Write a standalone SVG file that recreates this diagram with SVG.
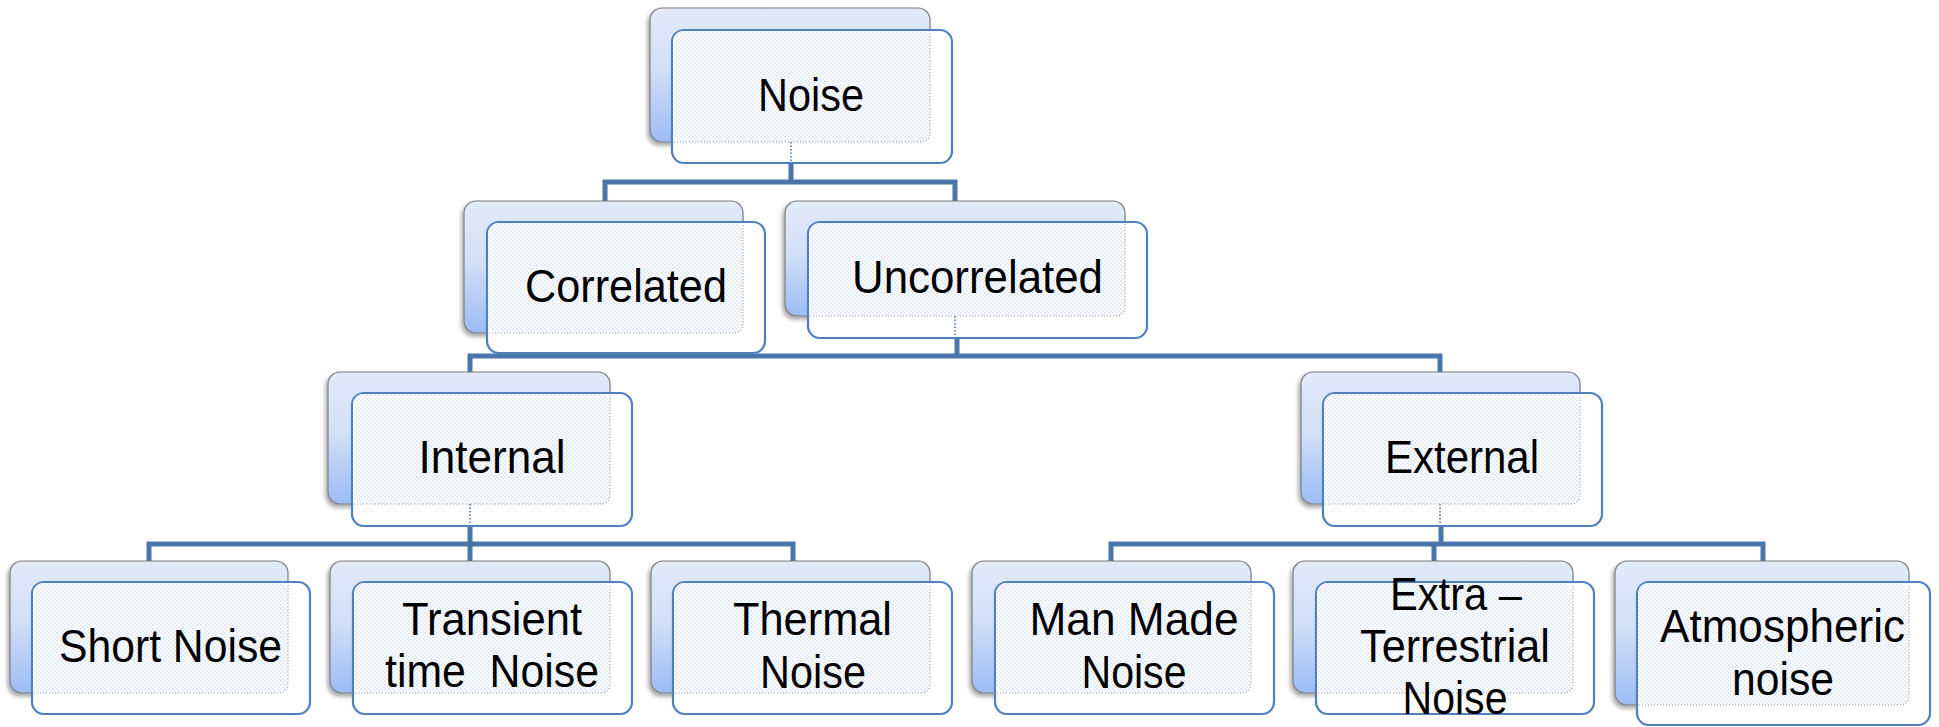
<svg xmlns="http://www.w3.org/2000/svg" width="1939" height="727" viewBox="0 0 1939 727">
  <style>
    .back { fill: url(#backGrad); stroke: #7d7d7d; stroke-width: 1.2; filter: url(#shadow); }
    .front { fill: #ffffff; stroke: #4f81bd; stroke-width: 2.2; }
    .dots { fill: url(#dotPat); stroke: none; }
    .edge { fill: none; stroke: #9a9a9a; stroke-width: 1.2; stroke-dasharray: 1 2; }
    .stub { fill: none; stroke: #6f93c6; stroke-width: 2; stroke-dasharray: 1.5 2; }
    .conn { fill: none; stroke: #4a75ab; stroke-width: 5; stroke-linejoin: miter; }
    .lbl { font-family: "Liberation Sans", Arial, sans-serif; font-size: 47px; fill: #000000; text-anchor: middle; }
  </style>
  <defs>
    <linearGradient id="backGrad" x1="0" y1="0" x2="0" y2="1">
      <stop offset="0" stop-color="#e2eaf9"/>
      <stop offset="0.45" stop-color="#d3e0f7"/>
      <stop offset="1" stop-color="#9bbcf5"/>
    </linearGradient>
    <pattern id="dotPat" width="4" height="4" patternUnits="userSpaceOnUse">
      <rect width="4" height="4" fill="#ffffff"/>
      <circle cx="1" cy="1" r="0.8" fill="#bfd2f4"/>
      <circle cx="3" cy="3" r="0.8" fill="#c9d9f6"/>
    </pattern>
    <filter id="shadow" x="-10%" y="-10%" width="120%" height="130%">
      <feDropShadow dx="-2" dy="3" stdDeviation="2" flood-color="#000000" flood-opacity="0.35"/>
    </filter>
  </defs>

  <!-- connectors (elbow lines between levels) -->
  <g id="connectors">
    <path class="conn" d="M791,160 V182"/>
    <path class="conn" d="M605,203 V182 H955 V203"/>
    <path class="conn" d="M957,336 V356"/>
    <path class="conn" d="M470,374 V356 H1440 V374"/>
    <path class="conn" d="M470,524 V563"/>
    <path class="conn" d="M149,563 V544 H793 V563"/>
    <path class="conn" d="M1441,524 V544"/>
    <path class="conn" d="M1111,563 V544 H1763 V563"/>
    <path class="conn" d="M1434,544 V563"/>
  </g>

  <g id="node-noise">
    <rect class="back" x="650" y="8" width="280" height="134" rx="12"/>
    <rect class="front" x="672" y="30" width="280" height="133" rx="12"/>
    <rect class="dots" x="673" y="31" width="257" height="111" rx="10"/>
    <path class="edge" d="M674,142 H920 Q930,142 930,132 V32"/>
    <path class="stub" d="M791,142 V162"/>
    <text class="lbl" x="811" y="111" textLength="106" lengthAdjust="spacingAndGlyphs">Noise</text>
  </g>

  <g id="node-correlated">
    <rect class="back" x="464" y="201" width="279" height="132" rx="12"/>
    <rect class="front" x="487" y="222" width="278" height="131" rx="12"/>
    <rect class="dots" x="488" y="223" width="255" height="110" rx="10"/>
    <path class="edge" d="M489,333 H733 Q743,333 743,323 V224"/>
    <text class="lbl" x="626" y="302" textLength="202" lengthAdjust="spacingAndGlyphs">Correlated</text>
  </g>

  <g id="node-uncorrelated">
    <rect class="back" x="785" y="201" width="340" height="115" rx="12"/>
    <rect class="front" x="808" y="222" width="339" height="116" rx="12"/>
    <rect class="dots" x="809" y="223" width="316" height="93" rx="10"/>
    <path class="edge" d="M810,316 H1115 Q1125,316 1125,306 V224"/>
    <path class="stub" d="M955,316 V337"/>
    <text class="lbl" x="977.5" y="293" textLength="251" lengthAdjust="spacingAndGlyphs">Uncorrelated</text>
  </g>

  <g id="node-internal">
    <rect class="back" x="328" y="372" width="282" height="132" rx="12"/>
    <rect class="front" x="352" y="393" width="280" height="133" rx="12"/>
    <rect class="dots" x="353" y="394" width="257" height="110" rx="10"/>
    <path class="edge" d="M354,504 H600 Q610,504 610,494 V395"/>
    <path class="stub" d="M470,504 V525"/>
    <text class="lbl" x="492" y="473" textLength="147" lengthAdjust="spacingAndGlyphs">Internal</text>
  </g>

  <g id="node-external">
    <rect class="back" x="1301" y="372" width="279" height="132" rx="12"/>
    <rect class="front" x="1323" y="393" width="279" height="133" rx="12"/>
    <rect class="dots" x="1324" y="394" width="256" height="110" rx="10"/>
    <path class="edge" d="M1325,504 H1570 Q1580,504 1580,494 V395"/>
    <path class="stub" d="M1440,504 V525"/>
    <text class="lbl" x="1462" y="473" textLength="154" lengthAdjust="spacingAndGlyphs">External</text>
  </g>

  <g id="node-short-noise">
    <rect class="back" x="10" y="561" width="278" height="132" rx="12"/>
    <rect class="front" x="32" y="582" width="278" height="132" rx="12"/>
    <rect class="dots" x="33" y="583" width="255" height="110" rx="10"/>
    <path class="edge" d="M34,693 H278 Q288,693 288,683 V584"/>
    <text class="lbl" x="170.5" y="662" textLength="223" lengthAdjust="spacingAndGlyphs">Short Noise</text>
  </g>

  <g id="node-transient">
    <rect class="back" x="330" y="561" width="280" height="132" rx="12"/>
    <rect class="front" x="353" y="582" width="279" height="132" rx="12"/>
    <rect class="dots" x="354" y="583" width="256" height="110" rx="10"/>
    <path class="edge" d="M355,693 H600 Q610,693 610,683 V584"/>
    <text class="lbl" x="492" y="635" textLength="180" lengthAdjust="spacingAndGlyphs">Transient</text>
    <text class="lbl" x="492" y="687" textLength="214" lengthAdjust="spacingAndGlyphs" style="white-space: pre">time  Noise</text>
  </g>

  <g id="node-thermal">
    <rect class="back" x="651" y="561" width="279" height="132" rx="12"/>
    <rect class="front" x="673" y="582" width="279" height="132" rx="12"/>
    <rect class="dots" x="674" y="583" width="256" height="110" rx="10"/>
    <path class="edge" d="M675,693 H920 Q930,693 930,683 V584"/>
    <text class="lbl" x="812.5" y="635" textLength="159" lengthAdjust="spacingAndGlyphs">Thermal</text>
    <text class="lbl" x="813" y="688" textLength="106" lengthAdjust="spacingAndGlyphs">Noise</text>
  </g>

  <g id="node-man-made">
    <rect class="back" x="972" y="561" width="279" height="132" rx="12"/>
    <rect class="front" x="995" y="582" width="279" height="132" rx="12"/>
    <rect class="dots" x="996" y="583" width="255" height="110" rx="10"/>
    <path class="edge" d="M997,693 H1241 Q1251,693 1251,683 V584"/>
    <text class="lbl" x="1134" y="635" textLength="209" lengthAdjust="spacingAndGlyphs">Man Made</text>
    <text class="lbl" x="1134" y="688" textLength="105" lengthAdjust="spacingAndGlyphs">Noise</text>
  </g>

  <g id="node-extra-terrestrial">
    <rect class="back" x="1293" y="561" width="280" height="132" rx="12"/>
    <rect class="front" x="1316" y="582" width="278" height="132" rx="12"/>
    <rect class="dots" x="1317" y="583" width="256" height="110" rx="10"/>
    <path class="edge" d="M1318,693 H1563 Q1573,693 1573,683 V584"/>
    <text class="lbl" x="1456" y="610" textLength="132" lengthAdjust="spacingAndGlyphs">Extra –</text>
    <text class="lbl" x="1455" y="662" textLength="190" lengthAdjust="spacingAndGlyphs">Terrestrial</text>
    <text class="lbl" x="1455" y="714" textLength="105" lengthAdjust="spacingAndGlyphs">Noise</text>
  </g>

  <g id="node-atmospheric">
    <rect class="back" x="1615" y="561" width="294" height="144" rx="12"/>
    <rect class="front" x="1637" y="582" width="293" height="143" rx="12"/>
    <rect class="dots" x="1638" y="583" width="271" height="122" rx="10"/>
    <path class="edge" d="M1639,705 H1899 Q1909,705 1909,695 V584"/>
    <text class="lbl" x="1782.5" y="642" textLength="245" lengthAdjust="spacingAndGlyphs">Atmospheric</text>
    <text class="lbl" x="1783" y="695" textLength="102" lengthAdjust="spacingAndGlyphs">noise</text>
  </g>
</svg>
